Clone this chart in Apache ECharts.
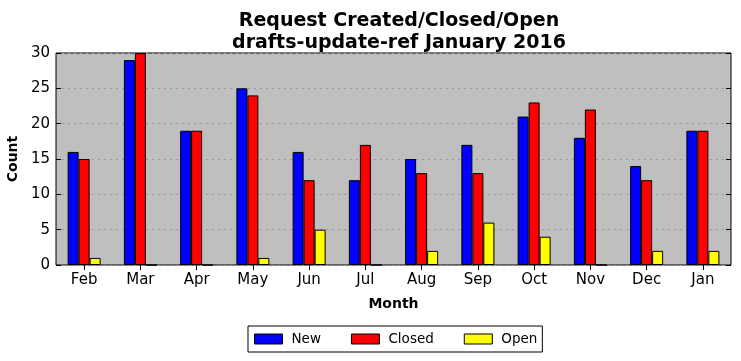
<!DOCTYPE html>
<html><head><meta charset="utf-8">
<script src="https://cdn.jsdelivr.net/npm/echarts@6/dist/echarts.min.js"></script>
<style>html,body{margin:0;padding:0;background:#fff}#c{width:741px;height:361px}</style>
</head><body><div id="c"></div>
<script>
var months = ['Feb','Mar','Apr','May','Jun','Jul','Aug','Sep','Oct','Nov','Dec','Jan'];
var newVals = [16,29,19,25,16,12,15,17,21,18,14,19];
var closedVals = [15,30,19,24,12,17,13,13,23,22,12,19];
var openVals = [1,0,0,1,5,0,2,6,4,0,2,2];
var yTicks = [0,5,10,15,20,25,30];

var font = 'DejaVu Sans';
var chart = echarts.init(document.getElementById('c'), null, {renderer:'canvas'});
function bar(name, data, color){
  return {name:name, type:'bar', data:data, xAxisIndex:0, yAxisIndex:0,
    barWidth:11, barGap:'0%', barCategoryGap:'41%',
    itemStyle:{color:color, borderColor:'#000', borderWidth:1},
    emphasis:{disabled:true}};
}
chart.setOption({
  animation:false,
  textStyle:{fontFamily:font},
  title:{text:'Request Created/Closed/Open\ndrafts-update-ref January 2016', left:394, textAlign:'center', top:5,
    textStyle:{fontFamily:font, fontSize:19, fontWeight:'bold', color:'#000', lineHeight:22}},
  grid:{left:56, right:10, top:53, bottom:96, show:true, backgroundColor:'#bfbfbf', borderColor:'#000', borderWidth:1,
    outerBoundsMode:'none', containLabel:false},
  legend:{data:['New','Closed','Open'], top:326, left:248, itemWidth:28, itemHeight:10, itemGap:30,
    padding:[6,5,6,6], borderColor:'#000', borderWidth:1, borderRadius:0,
    textStyle:{fontFamily:font, fontSize:13.5, color:'#000', padding:[0,0,0,4]}, icon:'rect',
    itemStyle:{borderColor:'#000', borderWidth:1}},
  xAxis:[{type:'category', data:months, position:'bottom',
      name:'Month', nameLocation:'middle', nameGap:32,
      nameTextStyle:{fontFamily:font, fontSize:14, fontWeight:'bold', color:'#000'},
      axisLine:{show:false}, axisTick:{show:true, inside:true, alignWithLabel:true, length:5, lineStyle:{color:'#000'}},
      axisLabel:{fontFamily:font, fontSize:15, color:'#000', margin:8}},
    {type:'category', data:months, position:'top', axisLine:{show:false},
      axisTick:{show:true, inside:true, alignWithLabel:true, length:5, lineStyle:{color:'#000'}}, axisLabel:{show:false}}],
  yAxis:[{type:'value', min:0, max:30, interval:5, name:'Count', nameLocation:'middle', nameGap:31,
      nameTextStyle:{fontFamily:font, fontSize:14, fontWeight:'bold', color:'#000'},
      axisLine:{show:false}, axisTick:{show:true, inside:true, length:5, lineStyle:{color:'#000'}},
      axisLabel:{fontFamily:font, fontSize:15, color:'#000', margin:6,
        formatter:function(v){return yTicks.indexOf(v)>=0 ? String(v) : '';}},
      splitLine:{show:true, lineStyle:{color:'#999', type:[2,4], width:1}}},
    {type:'value', min:0, max:30, interval:5, position:'right', axisLine:{show:false},
      axisTick:{show:true, inside:true, length:5, lineStyle:{color:'#000'}}, axisLabel:{show:false}, splitLine:{show:false}}],
  series:[bar('New', newVals, '#0000ff'), bar('Closed', closedVals, '#ff0000'), bar('Open', openVals, '#ffff00')]
});
</script></body></html>
